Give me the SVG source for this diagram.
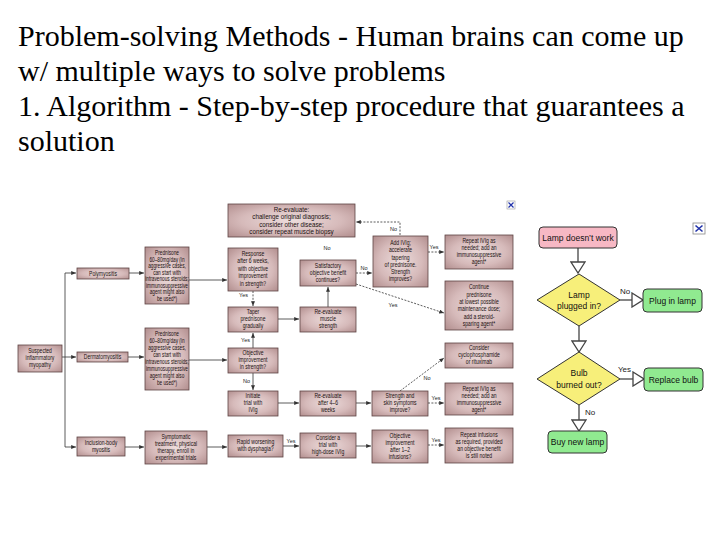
<svg xmlns="http://www.w3.org/2000/svg" width="720" height="540" viewBox="0 0 720 540">
<defs>
<radialGradient id="g" cx="50%" cy="50%" r="72%">
<stop offset="0" stop-color="#ecdcdc"/>
<stop offset="0.55" stop-color="#d6baba"/>
<stop offset="1" stop-color="#af8b8b"/>
</radialGradient>
<marker id="a" viewBox="0 0 6 5" refX="6" refY="2.5" markerWidth="5" markerHeight="4" markerUnits="userSpaceOnUse" orient="auto">
<path d="M0,0 L6,2.5 L0,5 z" fill="#333"/>
</marker>
<marker id="h" viewBox="-1 -1 13 16" refX="11" refY="7" markerWidth="13" markerHeight="16" markerUnits="userSpaceOnUse" orient="auto">
<path d="M0,0 L11,7 L0,14 z" fill="#fff" stroke="#444" stroke-width="1.3"/>
</marker>
</defs>
<style>
.title{font-family:"Liberation Serif","Times New Roman",serif;font-size:30px;fill:#000}
.bx{fill:url(#g);stroke:#5e4444;stroke-width:0.8}
.t text{font-family:"Liberation Sans",Arial,sans-serif;font-size:6.3px;fill:#1a1010;text-anchor:middle}
.lb{font-family:"Liberation Sans",Arial,sans-serif;font-size:5.5px;fill:#222}
.c{stroke:#333;stroke-width:0.8;fill:none}
.d{stroke-dasharray:2 1.4}
.rc{stroke:#444;stroke-width:1.3;fill:none}
.rn{stroke:#333;stroke-width:1}
.rt{font-family:"Liberation Sans",Arial,sans-serif;font-size:8.5px;fill:#111;text-anchor:middle}
.rl{font-family:"Liberation Sans",Arial,sans-serif;font-size:8px;fill:#222}
</style>
<rect width="720" height="540" fill="#fff"/>
<g id="title" class="title">
<text x="18" y="46">Problem-solving Methods - Human brains can come up</text>
<text x="18" y="81">w/ multiple ways to solve problems</text>
<text x="18" y="116">1. Algorithm - Step-by-step procedure that guarantees a</text>
<text x="18" y="151">solution</text>
</g>

<g id="connectors">
<path class="c" d="M65,273 V447"/>
<path class="c" d="M62,357 H76" marker-end="url(#a)"/>
<path class="c" d="M65,273 H76" marker-end="url(#a)"/>
<path class="c" d="M65,447 H76" marker-end="url(#a)"/>
<path class="c" d="M129,273 H144" marker-end="url(#a)"/>
<path class="c" d="M128,357 H144" marker-end="url(#a)"/>
<path class="c" d="M125,447 H144" marker-end="url(#a)"/>
<path class="c" d="M189,280 H227" marker-end="url(#a)"/>
<path class="c" d="M189,360 H227" marker-end="url(#a)"/>
<path class="c" d="M207,447 H227" marker-end="url(#a)"/>
<path class="c" d="M253,348 V333" marker-end="url(#a)"/>
<path class="c" d="M253,373 V390" marker-end="url(#a)"/>
<path class="c" d="M278,319 H299" marker-end="url(#a)"/>
<path class="c" d="M328,307 V287" marker-end="url(#a)"/>
<path class="c" d="M278,403 H299" marker-end="url(#a)"/>
<path class="c" d="M356,403 H371" marker-end="url(#a)"/>
<path class="c" d="M283,446 H299" marker-end="url(#a)"/>
<path class="c" d="M356,446 H371" marker-end="url(#a)"/>
<path class="c d" d="M253,291 V306" marker-end="url(#a)"/>
<path class="c d" d="M356,273 H372" marker-end="url(#a)"/>
<path class="c d" d="M356,284 L444,313" marker-end="url(#a)"/>
<path class="c d" d="M400,235 V222 H356" marker-end="url(#a)"/>
<path class="c d" d="M428,252 H444" marker-end="url(#a)"/>
<path class="c d" d="M400,391 L444,358" marker-end="url(#a)"/>
<path class="c d" d="M428,403 H444" marker-end="url(#a)"/>
<path class="c d" d="M428,445 H444" marker-end="url(#a)"/>
<text class="lb" x="248" y="297" text-anchor="end">Yes</text>
<text class="lb" x="250" y="342" text-anchor="end">Yes</text>
<text class="lb" x="250" y="383" text-anchor="end">No</text>
<text class="lb" x="327" y="250" text-anchor="middle">No</text>
<text class="lb" x="364" y="270" text-anchor="middle">No</text>
<text class="lb" x="393" y="307" text-anchor="middle">Yes</text>
<text class="lb" x="397" y="231" text-anchor="end">No</text>
<text class="lb" x="434" y="249" text-anchor="middle">Yes</text>
<text class="lb" x="427" y="380" text-anchor="middle">No</text>
<text class="lb" x="436" y="400" text-anchor="middle">Yes</text>
<text class="lb" x="291" y="443" text-anchor="middle">Yes</text>
<text class="lb" x="436" y="442" text-anchor="middle">Yes</text>
<!-- right flowchart connectors -->
<path class="rc" d="M578,248 V273" marker-end="url(#h)"/>
<path class="rc" d="M620,300 H643" marker-end="url(#h)"/>
<path class="rc" d="M579,326 V352" marker-end="url(#h)"/>
<path class="rc" d="M620,379 H644" marker-end="url(#h)"/>
<path class="rc" d="M579,405 V431" marker-end="url(#h)"/>
<text class="rl" x="620" y="294">No</text>
<text class="rl" x="618" y="372">Yes</text>
<text class="rl" x="585" y="415">No</text>
</g>

<g id="n-suspected"><rect class="bx" x="18" y="345" width="44" height="27"/>
<g class="t" transform="translate(40,0) scale(0.8,1)"><text y="353.5">Suspected</text><text y="360.5">inflammatory</text><text y="367.5">myopathy</text></g></g>
<g id="n-poly"><rect class="bx" x="77" y="268" width="52" height="11"/>
<g class="t" transform="translate(103,0) scale(0.8,1)"><text y="275.6">Polymyositis</text></g></g>
<g id="n-derm"><rect class="bx" x="77" y="352" width="51" height="10"/>
<g class="t" transform="translate(102.5,0) scale(0.8,1)"><text y="359.2">Dermatomyositis</text></g></g>
<g id="n-incl"><rect class="bx" x="77" y="437" width="48" height="19"/>
<g class="t" transform="translate(101,0) scale(0.8,1)"><text y="444.6">Inclusion-body</text><text y="451.6">myositis</text></g></g>
<g id="n-pred1"><rect class="bx" x="145" y="247" width="44" height="57"/>
<g class="t" transform="translate(167,0) scale(0.75,1)"><text y="255.5">Prednisone</text><text y="262">60–80mg/day (in</text><text y="268.5">aggressive cases,</text><text y="275">can start with</text><text y="281.5">intravenous steroids;</text><text y="288">immunosuppressive</text><text y="294.5">agent might also</text><text y="301">be used*)</text></g></g>
<g id="n-pred2"><rect class="bx" x="145" y="328" width="44" height="62"/>
<g class="t" transform="translate(167,0) scale(0.75,1)"><text y="336.5">Prednisone</text><text y="343.5">60–80mg/day (in</text><text y="350.5">aggressive cases,</text><text y="357.5">can start with</text><text y="364.5">intravenous steroids;</text><text y="371.5">immunosuppressive</text><text y="378.5">agent might also</text><text y="385.5">be used*)</text></g></g>
<g id="n-symp"><rect class="bx" x="145" y="431" width="62" height="33"/>
<g class="t" transform="translate(176,0) scale(0.8,1)"><text y="439.5">Symptomatic</text><text y="446.5">treatment, physical</text><text y="453.5">therapy, enroll in</text><text y="460.5">experimental trials</text></g></g>
<g id="n-resp"><rect class="bx" x="228" y="248" width="50" height="43"/>
<g class="t" transform="translate(253,0) scale(0.8,1)"><text y="256">Response</text><text y="263.5">after 6 weeks,</text><text y="271">with objective</text><text y="278.5">improvement</text><text y="286">in strength?</text></g></g>
<g id="n-taper"><rect class="bx" x="228" y="307" width="50" height="25"/>
<g class="t" transform="translate(253,0) scale(0.8,1)"><text y="314">Taper</text><text y="321">prednisone</text><text y="328">gradually</text></g></g>
<g id="n-obj"><rect class="bx" x="228" y="348" width="50" height="25"/>
<g class="t" transform="translate(253,0) scale(0.8,1)"><text y="355">Objective</text><text y="362">improvement</text><text y="369">in strength?</text></g></g>
<g id="n-init"><rect class="bx" x="228" y="391" width="50" height="25"/>
<g class="t" transform="translate(253,0) scale(0.8,1)"><text y="398">Initiate</text><text y="405">trial with</text><text y="412">IVIg</text></g></g>
<g id="n-rapid"><rect class="bx" x="228" y="435" width="55" height="22"/>
<g class="t" transform="translate(255.5,0) scale(0.8,1)"><text y="444">Rapid worsening</text><text y="451">with dysphagia?</text></g></g>
<g id="n-reeval"><rect class="bx" x="228" y="204" width="127" height="33"/>
<g class="t" transform="translate(291.5,0) scale(0.92,1)"><text y="212" style="font-size:6.8px">Re-evaluate:</text><text y="219.3" style="font-size:6.8px">challenge original diagnosis;</text><text y="226.6" style="font-size:6.8px">consider other disease;</text><text y="233.9" style="font-size:6.8px">consider repeat muscle biopsy</text></g></g>
<g id="n-satis"><rect class="bx" x="300" y="260" width="56" height="26"/>
<g class="t" transform="translate(328,0) scale(0.8,1)"><text y="268">Satisfactory</text><text y="275">objective benefit</text><text y="282">continues?</text></g></g>
<g id="n-rem"><rect class="bx" x="300" y="307" width="56" height="25"/>
<g class="t" transform="translate(328,0) scale(0.8,1)"><text y="314">Re-evaluate</text><text y="321">muscle</text><text y="328">strength</text></g></g>
<g id="n-re46"><rect class="bx" x="300" y="391" width="56" height="25"/>
<g class="t" transform="translate(328,0) scale(0.8,1)"><text y="398">Re-evaluate</text><text y="405">after 4–6</text><text y="412">weeks</text></g></g>
<g id="n-consider"><rect class="bx" x="300" y="433" width="56" height="25"/>
<g class="t" transform="translate(328,0) scale(0.8,1)"><text y="440">Consider a</text><text y="447">trial with</text><text y="454">high-dose IVIg</text></g></g>
<g id="n-add"><rect class="bx" x="373" y="236" width="55" height="51"/>
<g class="t" transform="translate(400.5,0) scale(0.8,1)"><text y="245">Add IVIg;</text><text y="252.3">accelerate</text><text y="259.6">tapering</text><text y="266.9">of prednisone.</text><text y="274.2">Strength</text><text y="281.5">improves?</text></g></g>
<g id="n-strength"><rect class="bx" x="372" y="391" width="56" height="25"/>
<g class="t" transform="translate(400,0) scale(0.8,1)"><text y="398">Strength and</text><text y="405">skin symptoms</text><text y="412">improve?</text></g></g>
<g id="n-obj12"><rect class="bx" x="372" y="430" width="56" height="33"/>
<g class="t" transform="translate(400,0) scale(0.8,1)"><text y="438">Objective</text><text y="445">improvement</text><text y="452">after 1–2</text><text y="459">infusions?</text></g></g>
<g id="n-rep1"><rect class="bx" x="445" y="235" width="68" height="34"/>
<g class="t" transform="translate(479,0) scale(0.8,1)"><text y="243.5">Repeat IVIg as</text><text y="250.5">needed; add an</text><text y="257.5">immunosuppressive</text><text y="264.5">agent*</text></g></g>
<g id="n-cont"><rect class="bx" x="445" y="281" width="68" height="49"/>
<g class="t" transform="translate(479,0) scale(0.8,1)"><text y="289.5">Continue</text><text y="296.8">prednisone</text><text y="304.1">at lowest possible</text><text y="311.4">maintenance dose;</text><text y="318.7">add a steroid-</text><text y="326">sparing agent*</text></g></g>
<g id="n-cyclo"><rect class="bx" x="445" y="343" width="68" height="25"/>
<g class="t" transform="translate(479,0) scale(0.8,1)"><text y="350">Consider</text><text y="357">cyclophosphamide</text><text y="364">or rituximab</text></g></g>
<g id="n-rep2"><rect class="bx" x="445" y="383" width="68" height="32"/>
<g class="t" transform="translate(479,0) scale(0.8,1)"><text y="391">Repeat IVIg as</text><text y="398">needed; add an</text><text y="405">immunosuppressive</text><text y="412">agent*</text></g></g>
<g id="n-repinf"><rect class="bx" x="445" y="428" width="68" height="35"/>
<g class="t" transform="translate(479,0) scale(0.8,1)"><text y="437">Repeat infusions</text><text y="444">as required, provided</text><text y="451">an objective benefit</text><text y="458">is still noted</text></g></g>

<g id="icon1"><rect x="507" y="201" width="8" height="8" fill="#fff" stroke="#999" stroke-width="0.6"/><path d="M508.5,202.5 L513.5,207.5 M513.5,202.5 L508.5,207.5" stroke="#2233aa" stroke-width="1.2"/></g>
<g id="icon2"><rect x="693" y="223" width="12" height="11" fill="#fff" stroke="#888" stroke-width="0.8"/><path d="M695.5,225.5 L702.5,231.5 M702.5,225.5 L695.5,231.5" stroke="#2233aa" stroke-width="1.6"/></g>

<g id="r-lamp"><rect class="rn" x="539" y="227" width="78" height="21" rx="4" fill="#f7b8c4"/><text class="rt" x="578" y="240.5">Lamp doesn’t work</text></g>
<g id="r-plugged"><path class="rn" d="M579,274 L620,300 L579,326 L537,300 z" fill="#f7ef7a"/><text class="rt" x="579" y="298">Lamp</text><text class="rt" x="579" y="308.5">plugged in?</text></g>
<g id="r-plug"><rect class="rn" x="643" y="289" width="59" height="23" rx="4" fill="#90ea90"/><text class="rt" x="672.5" y="303.5">Plug in lamp</text></g>
<g id="r-bulb"><path class="rn" d="M579,352 L620,379 L579,405 L537,379 z" fill="#f7ef7a"/><text class="rt" x="579" y="376">Bulb</text><text class="rt" x="579" y="387.5">burned out?</text></g>
<g id="r-replace"><rect class="rn" x="644" y="368" width="59" height="23" rx="4" fill="#90ea90"/><text class="rt" x="673.5" y="382.5">Replace bulb</text></g>
<g id="r-buy"><rect class="rn" x="548" y="431" width="59" height="22" rx="4" fill="#90ea90"/><text class="rt" x="577.5" y="445">Buy new lamp</text></g>
</svg>
